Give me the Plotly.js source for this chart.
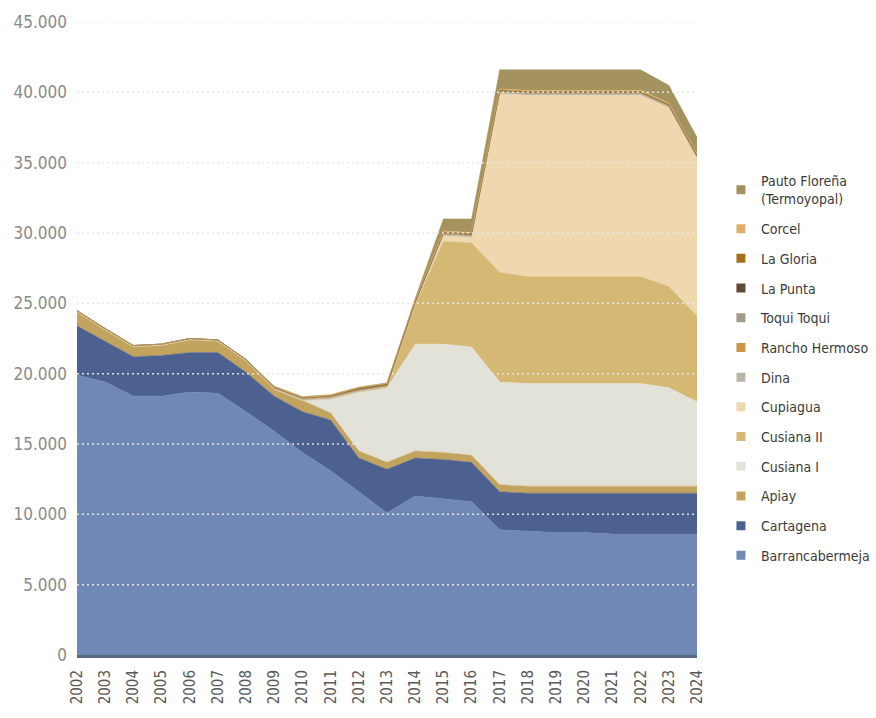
<!DOCTYPE html>
<html>
<head>
<meta charset="utf-8">
<script src="https://cdn.plot.ly/plotly-3.0.1.min.js"></script>
<style>html,body{margin:0;padding:0;background:#fff;}#chart{width:876px;height:718px;}</style>
</head>
<body>
<div id="chart"></div>
<script>
// ---- data ----
const years = [2002,2003,2004,2005,2006,2007,2008,2009,2010,2011,2012,2013,2014,2015,2016,2017,2018,2019,2020,2021,2022,2023,2024];
const barrancabermeja = [19900,19400,18400,18400,18700,18600,17300,15900,14400,13100,11600,10100,11300,11100,10900,8900,8800,8700,8700,8600,8600,8600,8600];
const cartagena       = [3500,2900,2800,2900,2800,2900,2800,2500,2900,3600,2400,3100,2700,2800,2800,2700,2700,2800,2800,2900,2900,2900,2900];
const apiay           = [1000,820,720,720,920,820,820,500,800,500,500,500,500,500,500,500,500,500,500,500,500,500,500];
const cusianaI        = [0,0,0,0,0,0,0,0,0,1000,4200,5300,7600,7700,7700,7300,7300,7300,7300,7300,7300,7000,6000];
const cusianaII       = [0,0,0,0,0,0,0,0,0,0,0,0,2800,7300,7400,7800,7600,7600,7600,7600,7600,7200,6100];
const cupiagua        = [0,0,0,0,0,0,0,0,0,0,0,0,0,400,400,12700,12900,12900,12900,12900,12900,12700,11200];
const dina            = [80,80,80,80,80,80,80,80,80,80,80,80,80,80,80,80,80,80,80,80,80,80,80];
const ranchoHermoso   = [0,0,0,0,0,0,0,0,60,60,60,60,60,60,60,60,60,60,60,60,60,60,60];
const toquiToqui      = [0,0,0,0,0,0,0,40,40,40,40,40,40,40,40,40,40,40,40,40,40,40,40];
const laPunta         = [0,0,0,0,0,0,0,0,0,40,40,40,40,40,40,40,40,40,40,40,40,40,40];
const laGloria        = [0,0,0,0,0,0,0,0,0,0,40,40,40,40,40,40,40,40,40,40,40,40,40];
const corcel          = [0,0,0,0,0,0,0,80,80,80,80,80,80,80,80,80,80,80,80,80,80,80,80];
const pautoFlorena    = [0,0,0,0,0,0,0,0,0,0,0,0,100,860,960,1360,1460,1460,1460,1460,1460,1260,1160];
const yTicks = [0,5000,10000,15000,20000,25000,30000,35000,40000,45000];

const series = [
  {name:'Barrancabermeja', y:barrancabermeja, color:'#7088b6'},
  {name:'Cartagena', y:cartagena, color:'#4d6190'},
  {name:'Apiay', y:apiay, color:'#c3a45e'},
  {name:'Cusiana I', y:cusianaI, color:'#e3e2d8'},
  {name:'Cusiana II', y:cusianaII, color:'#d5b874'},
  {name:'Cupiagua', y:cupiagua, color:'#efd8b0'},
  {name:'Dina', y:dina, color:'#b9b5a8'},
  {name:'Rancho Hermoso', y:ranchoHermoso, color:'#c9974a'},
  {name:'Toqui Toqui', y:toquiToqui, color:'#a39a8c'},
  {name:'La Punta', y:laPunta, color:'#5e4c33'},
  {name:'La Gloria', y:laGloria, color:'#a8701e'},
  {name:'Corcel', y:corcel, color:'#dcb06a'},
  {name:'Pauto Floreña<br>(Termoyopal)', y:pautoFlorena, color:'#a4925f'}
];

const traces = [];
series.forEach((s) => {
  traces.push({
    type:'scatter', mode:'lines', x:years, y:s.y, stackgroup:'one',
    line:{width:0.5, color:s.color}, fillcolor:s.color,
    name:s.name, showlegend:false, hoverinfo:'x+y+name'
  });
});
// legend swatches (square symbols), top of stack first
series.slice().reverse().forEach((s, i) => {
  traces.push({
    type:'scatter', mode:'markers', x:[null], y:[null],
    marker:{symbol:'square', size:9, color:s.color},
    name:s.name, legendgroup:'L'+i, showlegend:true
  });
});

const gridShapes = yTicks.filter(v => v > 0).map(v => ({
  type:'line', xref:'paper', x0:0, x1:1, yref:'y', y0:v, y1:v,
  layer:'above', line:{color:'rgba(232,232,232,0.95)', width:1.5, dash:'2px,3px'}
}));

const layout = {
  width:876, height:718,
  margin:{l:77, r:179, t:22, b:63},
  paper_bgcolor:'#ffffff', plot_bgcolor:'#ffffff',
  separators:',.',
  showlegend:true,
  legend:{
    xref:'container', yref:'container', x:0.823, y:0.770, xanchor:'left', yanchor:'top',
    traceorder:'grouped', tracegroupgap:8.5, itemwidth:30, maxheight:700,
    font:{family:'"DejaVu Sans Condensed", "Liberation Sans Narrow", sans-serif', size:14, color:'#3b3b3b'},
    bgcolor:'rgba(0,0,0,0)'
  },
  xaxis:{
    range:[2002, 2024], tickmode:'array', tickvals:years, ticktext:years.map(String),
    tickangle:-90, showgrid:false, zeroline:false, ticks:'', ticklabelstandoff:6,
    showline:true, linecolor:'rgba(62,78,110,0.85)', linewidth:3,
    tickfont:{family:'"DejaVu Sans Condensed", sans-serif', size:15, color:'#5a5a5a'}
  },
  yaxis:{
    range:[0, 45000], tickmode:'array', tickvals:yTicks, tickformat:',.0f',
    showgrid:false, zeroline:false, ticks:'', ticklabelstandoff:9,
    tickfont:{family:'"DejaVu Sans Condensed", sans-serif', size:17, color:'#8a8a8a'}
  },
  shapes:gridShapes,
  hovermode:false
};

Plotly.newPlot('chart', traces, layout, {displayModeBar:false, staticPlot:true});
</script>
</body>
</html>
